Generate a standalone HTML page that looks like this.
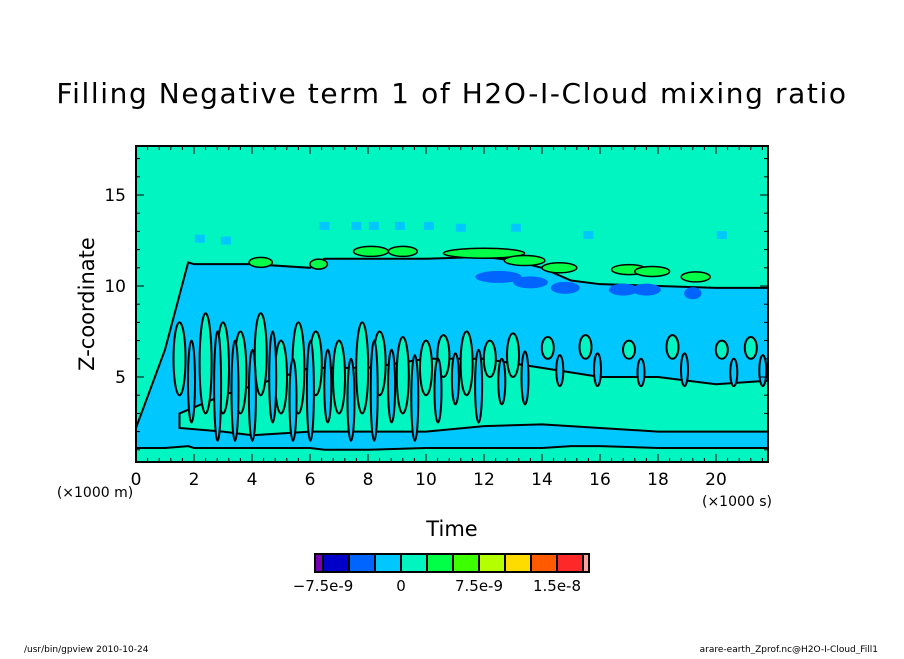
<!DOCTYPE html>
<html><head><meta charset="utf-8"><style>
body{margin:0;background:#fff;width:904px;height:654px;overflow:hidden}
svg text{font-family:"DejaVu Sans","Liberation Sans",sans-serif}
</style></head><body>
<svg id="chart" width="904" height="654">
<text x="452" y="103" font-size="28" letter-spacing="1.6" text-anchor="middle">Filling Negative term 1 of H2O-I-Cloud mixing ratio</text>
<defs><clipPath id="clip"><rect x="136" y="146" width="632" height="316"/></clipPath></defs>
<rect x="136" y="146" width="632" height="316" fill="#00f5c0"/>
<g id="marks" clip-path="url(#clip)"></g>
<rect x="136" y="146" width="632" height="316" fill="none" stroke="#000" stroke-width="2"/>
<g id="axes"></g>
<text x="94" y="304" font-size="21" text-anchor="middle" transform="rotate(-90 94 304)">Z-coordinate</text>
<text x="95" y="497" font-size="14" text-anchor="middle">(×1000 m)</text>
<text x="737" y="506" font-size="14" text-anchor="middle">(×1000 s)</text>
<text x="452" y="536" font-size="21" text-anchor="middle">Time</text>
<g id="cbar"></g>
<text x="24" y="652" font-size="9">/usr/bin/gpview  2010-10-24</text>
<text x="878" y="652" font-size="9" text-anchor="end">arare-earth_Zprof.nc@H2O-I-Cloud_Fill1</text>
</svg>
<script>
const cyanT=[0,1,1.8,2,4,6,6.5,8,10,12,13,14,15,16,18,20,21.8];
const cyanTop=[2.2,6.5,11.3,11.2,11.2,11.0,11.5,11.5,11.5,11.6,11.4,11.0,10.3,10.1,10.0,9.9,9.9];
const cyanBot=[1.1,1.1,1.2,1.1,1.1,1.1,1.0,1.0,1.1,1.1,1.1,1.1,1.2,1.2,1.1,1.1,1.1];
const bandT=[1.5,3,4,6,8,10,12,14,16,18,20,21.8];
const bandTop=[3,4,4.5,5.5,5.5,6,6,5.5,5,5,4.6,4.8];
const bandBot=[2.2,2,1.8,2,2,2,2.3,2.4,2.2,2.0,2.0,2.0];
const streakT=[1.5,2.4,3.0,3.6,4.3,5.0,5.6,6.2,7.0,7.8,8.4,9.2,10.0,10.6,11.4,12.2,13.0,14.2,15.5,17.0,18.5,20.2,21.2];
const streakZ0=[4,3,3,3,4,3,3,4,3,3,4,3,4,5,4,5,5,6,6,6,6,6,6];
const streakZ1=[8,8.5,8,7.5,8.5,7,8,7.5,7,8,7.5,7.2,7.0,7.3,7.5,7.0,7.4,7.2,7.3,7.0,7.3,7.0,7.2];
const greenT=[4.3,6.3,8.1,9.2,12.0,13.4,14.6,17.0,17.8,19.3];
const greenZ=[11.3,11.2,11.9,11.9,11.8,11.4,11.0,10.9,10.8,10.5];
const greenW=[0.4,0.3,0.6,0.5,1.4,0.7,0.6,0.6,0.6,0.5];
const blueT=[12.5,13.6,14.8,16.8,17.6,19.2];
const blueZ=[10.5,10.2,9.9,9.8,9.8,9.6];
const blueW=[0.8,0.6,0.5,0.5,0.5,0.3];
const sqT=[6.5,7.6,8.2,9.1,10.1,11.2,13.1,15.6,20.2,2.2,3.1];
const sqZ=[13.3,13.3,13.3,13.3,13.3,13.2,13.2,12.8,12.8,12.6,12.5];
const xTicks=[0,2,4,6,8,10,12,14,16,18,20];
const yTicks=[5,10,15];
const cbColors=["#7800b4","#0000c8","#0064ff","#00c8ff","#00f5c0","#00ff46","#3cff00","#b4ff00","#ffdc00","#ff5a00","#ff2828","#ffa0a0"];
const cbLabels=["-7.5e-9","0","7.5e-9","1.5e-8"];

const X=t=>136+t*29, Y=z=>377-(z-5)*18.2;
const NS="http://www.w3.org/2000/svg";
const marks=document.getElementById('marks'), axes=document.getElementById('axes'), cb=document.getElementById('cbar');
function mk(p,tag,a){const e=document.createElementNS(NS,tag);for(const k in a)e.setAttribute(k,a[k]);p.appendChild(e);return e;}
let d='M'+cyanT.map((t,i)=>X(t)+','+Y(cyanTop[i])).join('L')+'L'+cyanT.slice().reverse().map((t,i)=>X(t)+','+Y(cyanBot[cyanT.length-1-i])).join('L')+'Z';
let e=mk(marks,'path',{d:d,fill:'#00c8ff',stroke:'#000','stroke-width':2});


d='M'+bandT.map((t,i)=>X(t)+','+Y(bandTop[i])).join('L')+'L'+bandT.slice().reverse().map((t,i)=>X(t)+','+Y(bandBot[bandT.length-1-i])).join('L')+'Z';
e=mk(marks,'path',{d:d,fill:'#00f5c0',stroke:'#000','stroke-width':2});


streakT.forEach((t,i)=>{const y0=Y(streakZ1[i]),y1=Y(streakZ0[i]);
 const s=mk(marks,'ellipse',{cx:X(t),cy:(y0+y1)/2,rx:6,ry:(y1-y0)/2,fill:'#00f5c0',stroke:'#000','stroke-width':2});
 
 });
streakT.forEach((t,i)=>{const y0=Y(streakZ1[i]-1),y1=Y(streakZ0[i]-1.5);
 const s=mk(marks,'ellipse',{cx:X(t)+12,cy:(y0+y1)/2,rx:3.5,ry:(y1-y0)/2,fill:'#00c8ff',stroke:'#000','stroke-width':2});
 
 });
greenT.forEach((t,i)=>{const s=mk(marks,'ellipse',{cx:X(t),cy:Y(greenZ[i]),rx:greenW[i]*29,ry:5,fill:'#00ff46',stroke:'#000','stroke-width':1.5});
 
 });
blueT.forEach((t,i)=>{const s=mk(marks,'ellipse',{cx:X(t),cy:Y(blueZ[i]),rx:blueW[i]*29,ry:6,fill:'#0064ff'});
 
 });
sqT.forEach((t,i)=>{const s=mk(marks,'rect',{x:X(t)-5,y:Y(sqZ[i])-4,width:10,height:8,fill:'#00c8ff'});
 
 });
for(let t=0;t<=21.8;t+=0.4){const l=Math.abs(t/2-Math.round(t/2))<0.01?8:4;
 mk(axes,'line',{x1:X(t),x2:X(t),y1:462,y2:462-l,stroke:'#000'});mk(axes,'line',{x1:X(t),x2:X(t),y1:146,y2:146+l,stroke:'#000'});}
for(let z=1;z<=17;z++){const l=z%5?4:8;
 mk(axes,'line',{x1:136,x2:136+l,y1:Y(z),y2:Y(z),stroke:'#000'});mk(axes,'line',{x1:768,x2:768-l,y1:Y(z),y2:Y(z),stroke:'#000'});}
xTicks.forEach(t=>{const s=mk(axes,'text',{x:X(t),y:485,'font-size':17,'text-anchor':'middle'});s.textContent=t;
 
 });
yTicks.forEach(z=>{const s=mk(axes,'text',{x:126,y:Y(z)+6,'font-size':17,'text-anchor':'end'});s.textContent=z;
 
 });
const cx=[315,323,349,375,401,427,453,479,505,531,557,583],cw=[8,26,26,26,26,26,26,26,26,26,26,6];
cbColors.forEach((c,i)=>{const s=mk(cb,'rect',{x:cx[i],y:554,width:cw[i],height:18,fill:c,stroke:'#000','stroke-width':2});
 
 });
cbLabels.forEach((l,i)=>{const s=mk(cb,'text',{x:323+i*78,y:591,'font-size':15,'text-anchor':'middle'});s.textContent=l.replace('-7','−7');
 
 });
</script>
</body></html>
